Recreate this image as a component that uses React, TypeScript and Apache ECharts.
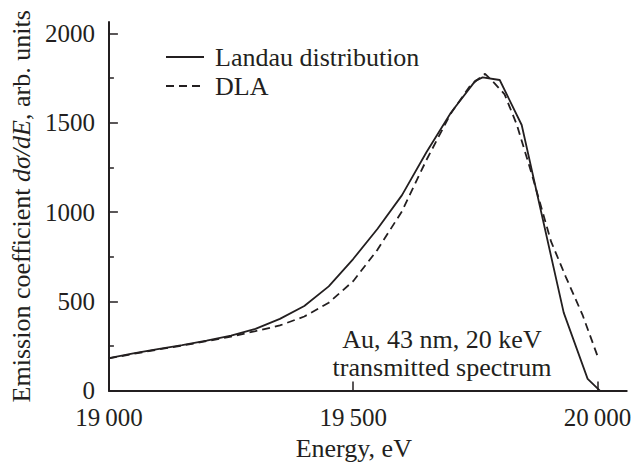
import React, { useEffect, useRef } from "react";
import * as echarts from "echarts";

// Landau distribution (solid)
const landauEnergy = [19000, 19050, 19100, 19150, 19200, 19250, 19300, 19350, 19400, 19450, 19500, 19550, 19600, 19650, 19700, 19750, 19765, 19800, 19845, 19931, 19980, 20005];
const landauValue = [182, 208, 232, 255, 280, 308, 346, 402, 474, 584, 737, 907, 1095, 1335, 1557, 1735, 1755, 1740, 1488, 437, 66, 0];

// DLA (dashed)
const dlaEnergy = [19000, 19050, 19100, 19150, 19200, 19250, 19300, 19350, 19400, 19450, 19500, 19550, 19600, 19650, 19700, 19740, 19770, 19790, 19810, 19835, 19865, 19905, 19935, 19970, 20002];
const dlaValue = [180, 206, 230, 252, 277, 303, 333, 365, 415, 492, 613, 790, 1005, 1292, 1553, 1710, 1775, 1720, 1660, 1490, 1219, 836, 639, 421, 180];

const seriesNames = ["Landau distribution", "DLA"];
const xTicks = [19000, 19500, 20000];
const yMajorTicks = [0, 500, 1000, 1500, 2000];
const yMinorTicks = [250, 750, 1250, 1750];
const annotation = "Au, 43 nm, 20 keV\ntransmitted spectrum";

const FONT = "Liberation Serif";
const INK = "#231f20";

export default function App() {
  const ref = useRef<HTMLDivElement>(null);
  useEffect(() => {
    if (!ref.current) return;
    const chart = echarts.init(ref.current, null, { renderer: "svg" });
    const fmtX = (v: number) => {
      const th = Math.floor(v / 1000);
      const rest = String(v % 1000).padStart(3, "0");
      return `${th}\u2009${rest}`;
    };
    chart.setOption({
      animation: false,
      backgroundColor: "#ffffff",
      textStyle: { fontFamily: FONT, color: INK },
      grid: { left: 106, right: 2, top: 22, bottom: 66, containLabel: false },
      legend: {
        data: seriesNames,
        orient: "vertical",
        left: 165,
        top: 44,
        itemWidth: 38,
        itemHeight: 14,
        itemGap: 3,
        padding: 0,
        itemStyle: { opacity: 0 },
        textStyle: { fontFamily: FONT, fontSize: 26, color: INK, lineHeight: 26, padding: [0, 0, 0, 6] },
      },
      xAxis: {
        type: "value",
        min: 19000,
        max: 20060,
        interval: 500,
        name: "Energy, eV",
        nameLocation: "middle",
        nameGap: 36,
        nameTextStyle: { fontFamily: FONT, fontSize: 26, color: INK, padding: [0, 28, 0, 0] },
        axisLine: { show: true, lineStyle: { color: INK, width: 2 } },
        axisTick: { show: true, inside: true, length: 9, customValues: xTicks, lineStyle: { color: INK, width: 1.5 } },
        axisLabel: {
          customValues: xTicks,
          formatter: fmtX,
          fontFamily: FONT,
          fontSize: 25,
          lineHeight: 22,
          color: INK,
          margin: 16,
        },
        splitLine: { show: false },
      },
      yAxis: [
        {
          type: "value",
          min: 0,
          max: 2065,
          interval: 500,
          name: "Emission coefficient {i|dσ/dE}, arb. units",
          nameLocation: "middle",
          nameGap: 57,
          nameTextStyle: {
            fontFamily: FONT,
            fontSize: 26,
            color: INK,
            rich: { i: { fontFamily: FONT, fontSize: 26, fontStyle: "italic", color: INK } },
          },
          axisLine: { show: true, lineStyle: { color: INK, width: 2 } },
          axisTick: { show: true, inside: true, length: 9, customValues: yMajorTicks, lineStyle: { color: INK, width: 1.5 } },
          axisLabel: {
            customValues: yMajorTicks,
            formatter: (v: number) => String(v),
            fontFamily: FONT,
            fontSize: 25,
            lineHeight: 18,
            color: INK,
            margin: 14,
          },
          splitLine: { show: false },
        },
        {
          type: "value",
          min: 0,
          max: 2065,
          position: "left",
          axisLine: { show: false },
          axisTick: { show: true, inside: true, length: 5, customValues: yMinorTicks, lineStyle: { color: INK, width: 1.5 } },
          axisLabel: { show: false },
          splitLine: { show: false },
        },
      ],
      graphic: [
        {
          type: "text",
          x: 442,
          y: 325,
          style: {
            text: annotation,
            fill: INK,
            font: `26px ${FONT}`,
            align: "center",
            verticalAlign: "top",
            lineHeight: 28,
          },
        },
      ],
      series: [
        {
          name: seriesNames[0],
          type: "line",
          data: landauEnergy.map((e, i) => [e, landauValue[i]]),
          symbol: "none",
          lineStyle: { color: INK, width: 1.8, type: "solid" },
          itemStyle: { color: INK },
        },
        {
          name: seriesNames[1],
          type: "line",
          data: dlaEnergy.map((e, i) => [e, dlaValue[i]]),
          symbol: "none",
          lineStyle: { color: INK, width: 1.8, type: [8, 5] },
          itemStyle: { color: INK },
        },
      ],
    });
    return () => chart.dispose();
  }, []);
  return (
    <div
      ref={ref}
      style={{ position: "fixed", left: 0, top: 0, width: 634, height: 466, background: "#fff" }}
    />
  );
}
